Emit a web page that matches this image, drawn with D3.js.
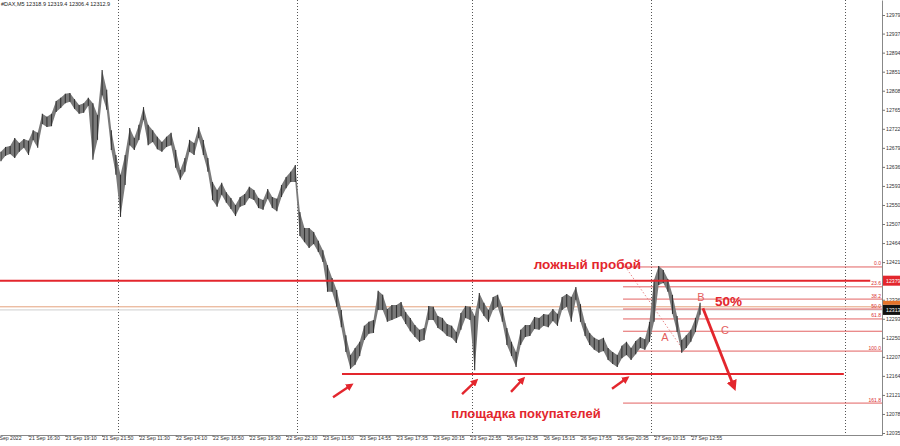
<!DOCTYPE html>
<html><head><meta charset="utf-8">
<script src="https://cdn.jsdelivr.net/npm/d3@7"></script>
<style>
html,body{margin:0;padding:0;background:#fff;}
svg{display:block;font-family:"Liberation Sans",Arial,sans-serif;}
</style></head>
<body><svg id="c" width="900" height="446"></svg>
<script>
// ---- data ----
const symbolInfo = "#DAX,M5  12318.9 12319.4 12306.4 12312.9";
// one sample per 4 M5 bars (20 min), starting at bar 8
const sampleStart = 8, sampleStep = 4;
const highs = [12670,12681,12683,12701,12690,12699,12695,12719,12713,12756,12749,12756,12785,12792,12801,12803,12789,12776,12780,12792,
12780,12753,12855,12810,12719,12663,12618,12663,12724,12701,12731,12771,12731,12719,12704,12692,12704,12713,12674,12629,
12656,12697,12690,12726,12697,12656,12602,12584,12600,12579,12566,12550,12568,12575,12591,12584,12566,12561,12586,12568,
12564,12595,12613,12625,12640,12534,12498,12498,12489,12469,12448,12414,12385,12358,12313,12256,12211,12227,12241,12277,
12286,12290,12356,12347,12315,12324,12324,12331,12308,12295,12279,12268,12272,12322,12320,12299,12295,12281,12277,12263,
12306,12322,12320,12299,12351,12329,12313,12342,12347,12320,12272,12241,12218,12268,12279,12279,12297,12295,12304,12302,
12315,12304,12342,12349,12342,12365,12326,12283,12261,12250,12245,12250,12227,12218,12211,12232,12241,12227,12243,12252,
12247,12286,12381,12412,12403,12383,12347,12299,12245,12256,12268,12295,12329];
const lows = [12649,12661,12665,12656,12670,12679,12663,12697,12679,12733,12726,12728,12760,12769,12780,12783,12767,12756,12758,12774,
12652,12697,12798,12765,12674,12618,12523,12595,12685,12674,12697,12742,12685,12692,12676,12670,12681,12685,12634,12607,
12625,12670,12663,12701,12663,12625,12561,12546,12573,12555,12541,12525,12546,12550,12566,12561,12543,12539,12564,12543,
12536,12568,12588,12602,12602,12480,12466,12453,12462,12444,12421,12354,12354,12320,12274,12218,12180,12189,12209,12245,
12259,12261,12313,12313,12286,12290,12295,12299,12281,12265,12252,12241,12245,12290,12290,12272,12265,12254,12250,12238,
12268,12295,12290,12177,12317,12299,12286,12313,12320,12286,12234,12209,12184,12234,12252,12254,12270,12268,12277,12274,
12288,12277,12313,12320,12286,12336,12286,12254,12234,12223,12216,12220,12200,12191,12184,12204,12211,12200,12213,12227,
12223,12241,12286,12369,12374,12354,12304,12263,12216,12227,12241,12263,12302];
const priceTicks = [12979,12937,12894,12851,12808,12765,12722,12679,12636,12593,12550,12507,12464,12421,12336,12293,12250,12207,12164,12121,12078,12035];
const timeLabels = ["21 Sep 2022","21 Sep 16:30","21 Sep 19:10","21 Sep 21:50","22 Sep 11:30","22 Sep 14:10","22 Sep 16:50","22 Sep 19:30","22 Sep 22:10","23 Sep 11:50","23 Sep 14:55","23 Sep 17:35","23 Sep 20:15","23 Sep 22:55","26 Sep 12:35","26 Sep 15:15","26 Sep 17:55","26 Sep 20:35","27 Sep 10:15","27 Sep 12:55"];
const timeLabelBars = [0,32,64,96,128,160,192,224,256,288,320,352,384,416,448,480,512,544,576,608];
const daySeparatorBars = [110,265.5,418,573,742];
// annotations (bar index, price)
const resistance = {price:12379, from:7.2, to:764};
const support = {price:12168, from:304.6, to:741};
const fib = {high:12410, low:12220, from:549, to:774.2, levels:[0,23.6,38.2,50,61.8,76.4,100,161.8], labels:["0.0","23.6","38.2","50.0","61.8","","100.0","161.8"]};
const fibTrend = [[549,12418],[602,12220]];
const smallArrows = [[[296.8,12116],[312.4,12143]],[[409,12123],[421.1,12153]],[[451.6,12128],[462,12157]],[[539.4,12135],[552.4,12159]]];
const bigArrow = [[618.5,12317],[645.5,12139]];
const texts = [
 {t:"ложный пробой", b:518, p:12415, size:13.5, weight:"bold"},
 {t:"площадка покупателей", b:464.6, p:12080, size:13, weight:"bold"},
 {t:"50%", b:640.7, p:12333, size:13.5, weight:"bold"},
 {t:"A", b:585.5, p:12252, size:11, weight:"normal", light:true},
 {t:"B", b:616.8, p:12342, size:11, weight:"normal", light:true},
 {t:"C", b:637.7, p:12268, size:11, weight:"normal", light:true}
];
const askPrice = 12320, bidPrice = 12313;
const bidLabel = "12313", resLabel = "12379";

// ---- scales ----
const W = 882, H = 435;
const svg = d3.select("#c");
const x = d3.scaleLinear().domain([7.2, 774.2]).range([0, W]);
const y = d3.scaleLinear().domain([12030.5, 13012.9]).range([H, 0]);
const RED = "#e3262d";

// day separators
svg.append("g").selectAll("line").data(daySeparatorBars).join("line")
  .attr("x1", d=>Math.round(x(d))+0.5).attr("x2", d=>Math.round(x(d))+0.5)
  .attr("y1", 0).attr("y2", H)
  .attr("stroke", "#555").attr("stroke-width", 1).attr("stroke-dasharray", "1,2");

// ask/bid lines
svg.append("line").attr("x1",0).attr("x2",W).attr("y1",y(askPrice)).attr("y2",y(askPrice))
  .attr("stroke","#e4a27c").attr("stroke-width",1);
svg.append("line").attr("x1",0).attr("x2",W).attr("y1",y(bidPrice)).attr("y2",y(bidPrice))
  .attr("stroke","#cfcfcf").attr("stroke-width",1);

// fib levels
const fg = svg.append("g");
fib.levels.forEach((lv,i)=>{
  const p = fib.high - (fib.high - fib.low)*lv/100;
  fg.append("line").attr("x1",x(fib.from)).attr("x2",x(fib.to)).attr("y1",y(p)).attr("y2",y(p))
    .attr("stroke","#e05050").attr("stroke-width",0.9);
  if (fib.labels[i]) fg.append("text").attr("x",x(fib.to)-1).attr("y",y(p)-1.5)
    .attr("text-anchor","end").attr("font-size",5).attr("fill","#d93030").text(fib.labels[i]);
});
fg.append("line").attr("x1",x(fibTrend[0][0])).attr("y1",y(fibTrend[0][1]))
  .attr("x2",x(fibTrend[1][0])).attr("y2",y(fibTrend[1][1]))
  .attr("stroke","#e88a8a").attr("stroke-width",1).attr("stroke-dasharray","1.5,2");

// price bars
const idx = d3.range(highs.length);
const barOf = i => sampleStart + sampleStep*i;
svg.append("path").datum(idx)
  .attr("d", d3.area().x(i=>x(barOf(i))).y0(i=>y(lows[i])).y1(i=>y(highs[i])))
  .attr("fill","#7a7a7a");
svg.append("g").selectAll("line").data(idx).join("line")
  .attr("x1", i=>x(barOf(i))).attr("x2", i=>x(barOf(i)))
  .attr("y1", i=>y(highs[i])).attr("y2", i=>y(lows[i]))
  .attr("stroke","#333").attr("stroke-width",1.1);

// resistance / support
svg.append("line").attr("x1",x(resistance.from)).attr("x2",x(resistance.to))
  .attr("y1",y(resistance.price)).attr("y2",y(resistance.price)).attr("stroke",RED).attr("stroke-width",2);
svg.append("line").attr("x1",x(support.from)).attr("x2",x(support.to))
  .attr("y1",y(support.price)).attr("y2",y(support.price)).attr("stroke",RED).attr("stroke-width",2);

// arrows
const defs = svg.append("defs");
defs.append("marker").attr("id","ah").attr("viewBox","0 0 10 10").attr("refX",6).attr("refY",5)
  .attr("markerWidth",3.2).attr("markerHeight",3.2).attr("orient","auto")
  .append("path").attr("d","M0,0 L10,5 L0,10 z").attr("fill",RED);
defs.append("marker").attr("id","ahb").attr("viewBox","0 0 10 10").attr("refX",6).attr("refY",5)
  .attr("markerWidth",3.8).attr("markerHeight",3.8).attr("orient","auto")
  .append("path").attr("d","M0,0 L10,5 L0,10 z").attr("fill",RED);
smallArrows.forEach(a=>{
  svg.append("line").attr("x1",x(a[0][0])).attr("y1",y(a[0][1])).attr("x2",x(a[1][0])).attr("y2",y(a[1][1]))
    .attr("stroke",RED).attr("stroke-width",2.4).attr("marker-end","url(#ah)");
});
svg.append("line").attr("x1",x(bigArrow[0][0])).attr("y1",y(bigArrow[0][1])).attr("x2",x(bigArrow[1][0])).attr("y2",y(bigArrow[1][1]))
  .attr("stroke",RED).attr("stroke-width",2.8).attr("marker-end","url(#ahb)");

// texts
texts.forEach(t=>{
  svg.append("text").attr("x",x(t.b)).attr("y",y(t.p)).attr("text-anchor","middle").attr("dominant-baseline","central")
    .attr("font-size",t.size).attr("font-weight",t.weight).attr("fill",t.light?"#e46060":RED).text(t.t);
});

// axes
const ya = svg.append("g").attr("transform",`translate(${W},0)`)
  .call(d3.axisRight(y).tickValues(priceTicks).tickSize(3).tickSizeOuter(0).tickFormat(d3.format("d")));
ya.select(".domain").attr("stroke","#888");
ya.selectAll(".tick line").attr("stroke","#777");
ya.selectAll("text").attr("font-size",5.2).attr("fill","#333").attr("x",4);
const xa = svg.append("g").attr("transform",`translate(0,${H})`)
  .call(d3.axisBottom(x).tickValues(timeLabelBars).tickSize(2).tickSizeOuter(0).tickFormat((d,i)=>timeLabels[i]));
xa.select(".domain").attr("stroke","#888");
xa.selectAll(".tick line").attr("stroke","#777");
xa.selectAll("text").attr("font-size",5.2).attr("fill","#333").attr("text-anchor","start").attr("dy","0.6em").attr("y",2);

// price labels on axis
function axisTag(p, label, fill){
  svg.append("rect").attr("x",W+1).attr("y",y(p)-5).attr("width",20).attr("height",10).attr("fill",fill);
  svg.append("text").attr("x",W+4).attr("y",y(p)).attr("dominant-baseline","central").attr("font-size",5.2)
    .attr("fill","#fff").text(label);
}
svg.append("rect").attr("x",W+1).attr("y",y(askPrice)-6).attr("width",20).attr("height",4).attr("fill","#e4732a");
axisTag(bidPrice, bidLabel, "#111");
axisTag(resistance.price, resLabel, "#e3262d");

// header
svg.append("text").attr("x",1).attr("y",4).attr("dominant-baseline","central").attr("font-size",5.5)
  .attr("fill","#222").text(symbolInfo);
</script></body></html>
